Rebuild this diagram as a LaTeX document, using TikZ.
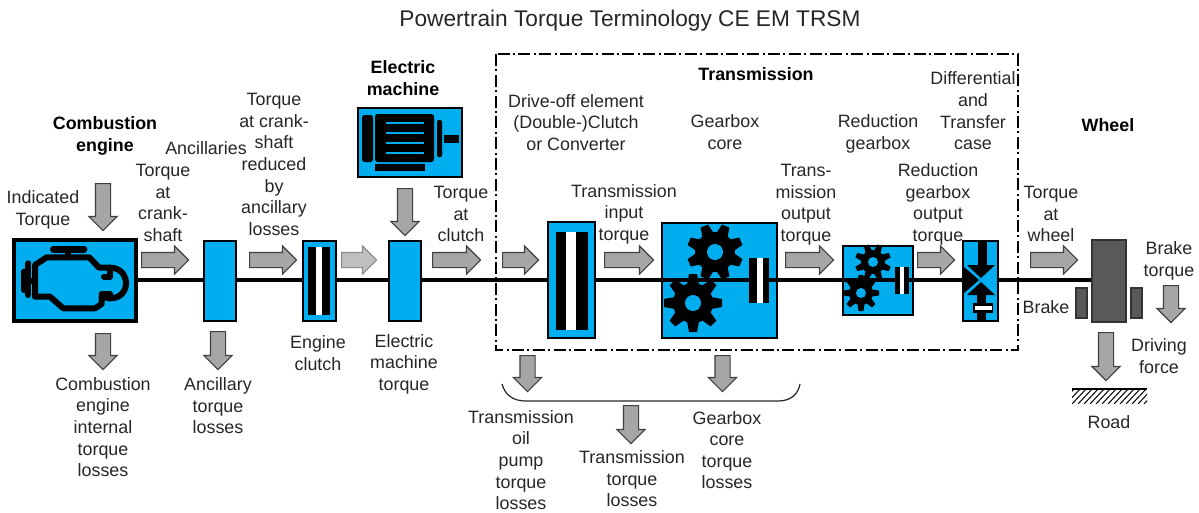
\documentclass[tikz,border=0pt]{standalone}
\usepackage{fontspec}
\setmainfont{Liberation Sans}
\usetikzlibrary{shapes.arrows}
\definecolor{blk}{HTML}{00ADEF}
\definecolor{arrowgray}{HTML}{A6A6A6}
\definecolor{darkgray}{HTML}{595959}
\def\px{0.75pt}
\newcommand{\gearshape}[6]{%
  % cx cy outer root hole rot
  \fill[black] (#1,#2) circle[radius=#4];
  \foreach \a in {0,45,...,315}{
    \fill[black,shift={(#1,#2)},rotate=\a+#6]
      (#4-2,-#4*0.30) -- (#3,-#4*0.20) -- (#3,#4*0.20) -- (#4-2,#4*0.30) -- cycle;
  }
  \fill[blk] (#1,#2) circle[radius=#5];
}
\tikzset{
  x=\px,y=-\px,
  lbl/.style={font=\fontsize{13.4}{16.2}\selectfont,align=center,inner sep=0pt,text=black!85},
  bold/.style={lbl,font=\fontsize{13.4}{16.2}\selectfont\bfseries,text=black},
  barrow/.style={single arrow,draw=black!75,fill=arrowgray,line width=0.9pt,inner sep=7*\px,
     single arrow head extend=6.5*\px,single arrow tip angle=90,single arrow head indent=0pt,
     minimum height=47*\px,anchor=tail},
  lightarrow/.style={barrow,fill=black!25,draw=black!45},
  downarrow/.style={barrow,rotate=-90},
  blue box/.style={draw=black,fill=blk,line width=1.1pt},
  heavy box/.style={draw=black,fill=blk,line width=2.4pt},
  black bar/.style={fill=black},
  white bar/.style={fill=white},
  shaft/.style={draw=black,line width=3.6pt},
  icon/.style={draw=black,line width=4.5pt,line join=round,line cap=round},
  padbox/.style={draw=black!80,fill=darkgray,line width=0.9pt},
}
\begin{document}
\begin{tikzpicture}
\useasboundingbox (0,0) rectangle (1199,512);
% shaft
\coordinate (shaftL) at (136,280);
\coordinate (shaftR) at (1092,280);
\draw[shaft] (shaftL) -- (shaftR);

% engine
\draw[heavy box] (14,240) rectangle (136,321);
\begin{scope}[shift={(0,170)},x=0.25pt,y=-0.25pt]
  \draw[icon] (140,262) -- (268,262) -- (297,293) -- (330,293) .. controls (365,293) and (378,320) .. (378,340) .. controls (378,365) and (360,385) .. (330,385) -- (305,380) -- (305,402) -- (285,415) -- (190,415) -- (150,380) -- (105,380) -- (105,285) -- cycle;
  \draw[icon] (330,293) -- (330,320) -- (312,320);
  \draw[icon] (330,385) -- (330,372) -- (305,372);
  \draw[icon,line width=5pt] (160,238) -- (252,238);
  \draw[icon] (205,240) -- (205,262);
  \draw[icon] (85,280) -- (85,375);
  \draw[icon] (72,305) -- (72,360);
  \draw[icon] (75,332) -- (105,332);
\end{scope}

% ancillaries, clutch
\draw[blue box] (204,241) rectangle (236,321);
\draw[blue box] (303,241) rectangle (336,321);
\fill[black bar] (308,247) rectangle (330,315);
\fill[white bar] (316,247) rectangle (322,315);

% electric machine
\draw[blue box] (389,241) rectangle (421,321);
\draw[blue box] (358,108) rectangle (462,177);
\fill[black,rounded corners=2pt] (362,115) rectangle (373,162);
\fill[black,rounded corners=2pt] (375,114) rectangle (434,162);
\fill[black,rounded corners=1pt] (437,120) rectangle (442,157);
\fill[black] (444,135) rectangle (459,143);
\fill[black] (375,164) rectangle (425,171);
\foreach \yy in {123,133,143,153}{\fill[blk] (386,\yy-0.8) rectangle (424,\yy+0.8);}

% transmission box
\draw[black,line width=1.1pt,dash pattern=on 9pt off 2.5pt on 1.6pt off 2.5pt] (496,54) rectangle (1018,350);

% drive-off
\draw[blue box] (548,222) rectangle (595,338);
\fill[black bar] (556,232) rectangle (588,330);
\fill[white bar] (566,232) rectangle (576,330);

% gearbox
\draw[blue box] (662,223) rectangle (777,338);
\draw[shaft] (662,280) -- (777,280);
\gearshape{715}{252}{28}{20}{8}{22.5}
\gearshape{693}{303}{29}{20}{8}{0}
\fill[black bar] (749,258) rectangle (769,303);
\fill[white bar] (757,258) rectangle (763,303);

% reduction gearbox
\draw[blue box] (843,246) rectangle (913,315);
\draw[shaft] (843,280) -- (913,280);
\gearshape{873}{262}{18}{12}{5}{22.5}
\gearshape{861}{293}{18}{12}{5}{0}
\fill[black bar] (895,267) rectangle (909,294);
\fill[white bar] (900,267) rectangle (904,294);

% differential
\draw[blue box] (963,241) rectangle (998,321);
\fill[black] (978,242) rectangle (987,266);
\fill[black] (967,265) -- (995,265) -- (981,278) -- cycle;
\fill[black] (967,295) -- (995,295) -- (981,282) -- cycle;
\fill[black] (977,294) rectangle (986,321);
\fill[black] (973,303) rectangle (993,313);
\fill[white] (975,306) rectangle (992,310);
\fill[black] (964,267) -- (979,280) -- (964,293) -- cycle;

% wheel
\draw[padbox] (1092,240) rectangle (1126,322);
\draw[padbox] (1076,288) rectangle (1087,318);
\draw[padbox] (1131,288) rectangle (1142,318);

% road
\draw[black,line width=1.2pt] (1072,389) -- (1147,389);
\begin{scope}
  \clip (1072,389) rectangle (1147,403);
  \foreach \xx in {1060,1066,...,1160}{\draw[black,line width=0.75pt] (\xx,404) -- (\xx+15,388);}
\end{scope}

% bracket
\draw[black!85,line width=0.9pt] (502,384) .. controls (505,395) and (513,401) .. (526,401) -- (778,401) .. controls (790,401) and (798,395) .. (800,384);

% horizontal arrows
\node[barrow] (ha1) at (141,260) {};
\node[barrow] (ha2) at (249,260) {};
\node[lightarrow,minimum height=35*\px] (ha3) at (341,260) {};
\node[barrow,minimum height=48*\px] (ha4) at (432,260) {};
\node[barrow,minimum height=36*\px] (ha5) at (502,260) {};
\node[barrow,minimum height=49*\px] (ha6) at (604,260) {};
\node[barrow,minimum height=48*\px] (ha7) at (785,260) {};
\node[barrow,minimum height=37*\px] (ha8) at (917,260) {};
\node[barrow] (ha9) at (1030,260) {};
% vertical arrows
\node[downarrow] (va1) at (103,183) {};
\node[downarrow,minimum height=36*\px] (va2) at (103,333) {};
\node[downarrow,minimum height=38*\px] (va3) at (218,331) {};
\node[downarrow] (va4) at (405,188) {};
\node[downarrow,minimum height=36*\px] (va5) at (527.5,355) {};
\node[downarrow,minimum height=36*\px] (va6) at (722.5,355) {};
\node[downarrow,minimum height=38*\px] (va7) at (631,405) {};
\node[downarrow,minimum height=37*\px] (va8) at (1171,285) {};
\node[downarrow,minimum height=48*\px] (va9) at (1106,332) {};

% labels
\node[lbl,font=\fontsize{17}{20}\selectfont] (title) at (630,21) {Powertrain Torque Terminology CE EM TRSM};
\node[bold] (t1) at (105,136) {Combustion\\engine};
\node[lbl] (t2) at (43,210) {Indicated\\Torque};
\node[lbl] (t3) at (163,203) {Torque\\at\\crank-\\shaft};
\node[lbl] (t4) at (206,148) {Ancillaries};
\node[lbl] (t5) at (274,164.5) {Torque\\at crank-\\shaft\\reduced\\by\\ancillary\\losses};
\node[bold] (t6) at (403,78) {Electric\\machine};
\node[lbl] (t7) at (461,214) {Torque\\at\\clutch};
\node[lbl] (t8) at (576,122.5) {Drive-off element\\(Double-)Clutch\\or Converter};
\node[bold] (t9) at (756,74) {Transmission};
\node[lbl] (t10) at (725,132) {Gearbox\\core};
\node[lbl] (t11) at (624,214) {Transmission\\input\\torque};
\node[lbl] (t12) at (806,204.5) {Trans-\\mission\\output\\torque};
\node[lbl] (t13) at (878,134) {Reduction\\gearbox};
\node[lbl] (t14) at (973,111) {Differential\\and\\Transfer\\case};
\node[lbl] (t15) at (938,204.5) {Reduction\\gearbox\\output\\torque};
\node[bold] (t16) at (1108,125) {Wheel};
\node[lbl] (t17) at (1051,214) {Torque\\at\\wheel};
\node[lbl] (t18) at (1169,261) {Brake\\torque};
\node[lbl] (t19) at (1046,307) {Brake};
\node[lbl] (t20) at (1159,356) {Driving\\force};
\node[lbl] (t21) at (1109,422) {Road};
\node[lbl] (t22) at (318,353) {Engine\\clutch};
\node[lbl] (t23) at (404,364) {Electric\\machine\\torque};
\node[lbl] (t24) at (103,427) {Combustion\\engine\\internal\\torque\\losses};
\node[lbl] (t25) at (218,406) {Ancillary\\torque\\losses};
\node[lbl] (t26) at (521,460) {Transmission\\oil\\pump\\torque\\losses};
\node[lbl] (t27) at (632,479) {Transmission\\torque\\losses};
\node[lbl] (t28) at (727,450) {Gearbox\\core\\torque\\losses};
\end{tikzpicture}
\end{document}
